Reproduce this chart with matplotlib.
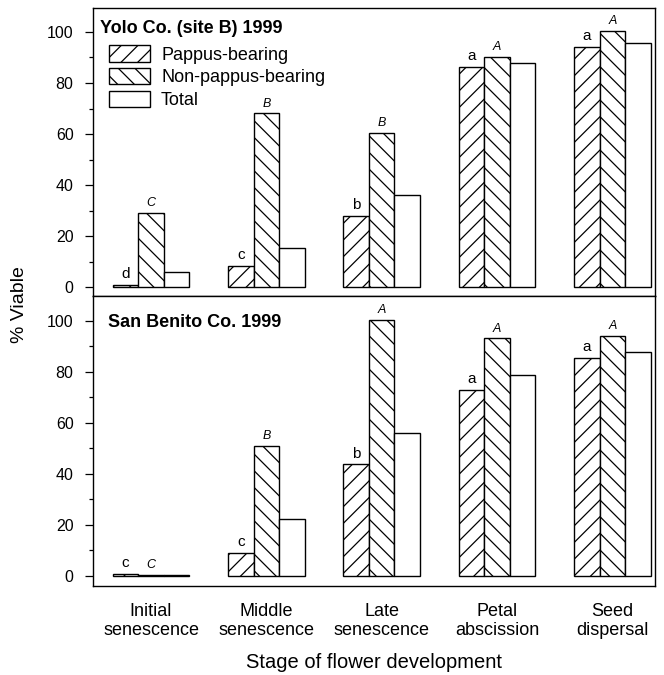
import numpy as np
import matplotlib
matplotlib.use("Agg")
import matplotlib.pyplot as plt
from matplotlib.ticker import MultipleLocator

plt.rcParams['font.family'] = ['Liberation Sans', 'DejaVu Sans']
plt.rcParams['hatch.linewidth'] = 0.9

stages = ["Initial\nsenescence", "Middle\nsenescence", "Late\nsenescence",
          "Petal\nabscission", "Seed\ndispersal"]

# Yolo Co. (site B) 1999
yolo_pappus = [0.7, 8.2, 27.8, 86.4, 94.0]
yolo_nonpappus = [29.1, 68.1, 60.5, 90.1, 100.4]
yolo_total = [6.0, 15.2, 36.0, 87.7, 95.6]
yolo_pappus_letters = ["d", "c", "b", "a", "a"]
yolo_nonpappus_letters = ["C", "B", "B", "A", "A"]

# San Benito Co. 1999
sb_pappus = [0.8, 8.9, 43.7, 72.9, 85.3]
sb_nonpappus = [0.2, 51.0, 100.3, 93.1, 94.0]
sb_total = [0.3, 22.2, 56.1, 78.7, 87.9]
sb_pappus_letters = ["c", "c", "b", "a", "a"]
sb_nonpappus_letters = ["C", "B", "A", "A", "A"]

W, H = 6.64, 6.75
fig = plt.figure(figsize=(W, H), dpi=100)

left = 93 / 664
width = (655 - 93) / 664
ax_top = fig.add_axes([left, 1 - 296 / 675, width, 288 / 675])
ax_bot = fig.add_axes([left, 1 - 586 / 675, width, 290 / 675])

x = np.arange(len(stages))
bw = 0.221


def panel(ax, pappus, nonpappus, total, low, high, ylim):
    b1 = ax.bar(x - bw, pappus, bw, color="white", edgecolor="black",
                hatch="//", linewidth=1.0, label="Pappus-bearing")
    b2 = ax.bar(x, nonpappus, bw, color="white", edgecolor="black",
                hatch="\\\\", linewidth=1.0, label="Non-pappus-bearing")
    b3 = ax.bar(x + bw, total, bw, color="white", edgecolor="black",
                linewidth=1.0, label="Total")
    for xi, v, t in zip(x, pappus, low):
        ax.text(xi - bw, v + 1.5, t, ha="center", va="bottom", fontsize=11)
    for xi, v, t in zip(x, nonpappus, high):
        ax.text(xi, v + 1.5, t, ha="center", va="bottom", fontsize=9,
                style="italic")
    ax.set_xlim(-0.503, 4.37)
    ax.set_ylim(*ylim)
    ax.yaxis.set_major_locator(MultipleLocator(20))
    ax.yaxis.set_minor_locator(MultipleLocator(10))
    ax.tick_params(axis="y", which="major", direction="out", length=6,
                   width=0.9, labelsize=11.5, pad=8)
    ax.tick_params(axis="y", which="minor", direction="out", length=3,
                   width=0.9)
    ax.tick_params(axis="x", length=0)
    for s in ax.spines.values():
        s.set_linewidth(1.0)
    ax.set_yticks([0, 20, 40, 60, 80, 100])
    return b1, b2, b3


handles = panel(ax_top, yolo_pappus, yolo_nonpappus, yolo_total,
                yolo_pappus_letters, yolo_nonpappus_letters, (-3.5, 109.4))
panel(ax_bot, sb_pappus, sb_nonpappus, sb_total,
      sb_pappus_letters, sb_nonpappus_letters, (-4.0, 109.7))

ax_top.set_xticks(x)
ax_top.set_xticklabels([])
ax_bot.set_xticks(x)
ax_bot.set_xticklabels(stages, fontsize=13, linespacing=1.15)
ax_bot.tick_params(axis="x", pad=12)

ax_top.text(0.012, 0.958, "Yolo Co. (site B) 1999", transform=ax_top.transAxes,
            fontsize=13, fontweight="bold", ha="left", va="top")
ax_bot.text(0.026, 0.938, "San Benito Co. 1999", transform=ax_bot.transAxes,
            fontsize=13, fontweight="bold", ha="left", va="top")

ax_top.legend(handles=list(handles), loc="upper left",
              bbox_to_anchor=(0.028, 0.87), frameon=False, fontsize=13,
              handlelength=2.3, handleheight=1.0, handletextpad=0.6,
              labelspacing=0.25, borderaxespad=0, borderpad=0)

fig.text(20 / 664, 1 - 305 / 675, "% Viable", rotation=90, fontsize=14,
         ha="center", va="center")
fig.text(374 / 664, 1 - 663 / 675, "Stage of flower development",
         fontsize=14.5, ha="center", va="center")

fig.savefig("out.png", dpi=100)
